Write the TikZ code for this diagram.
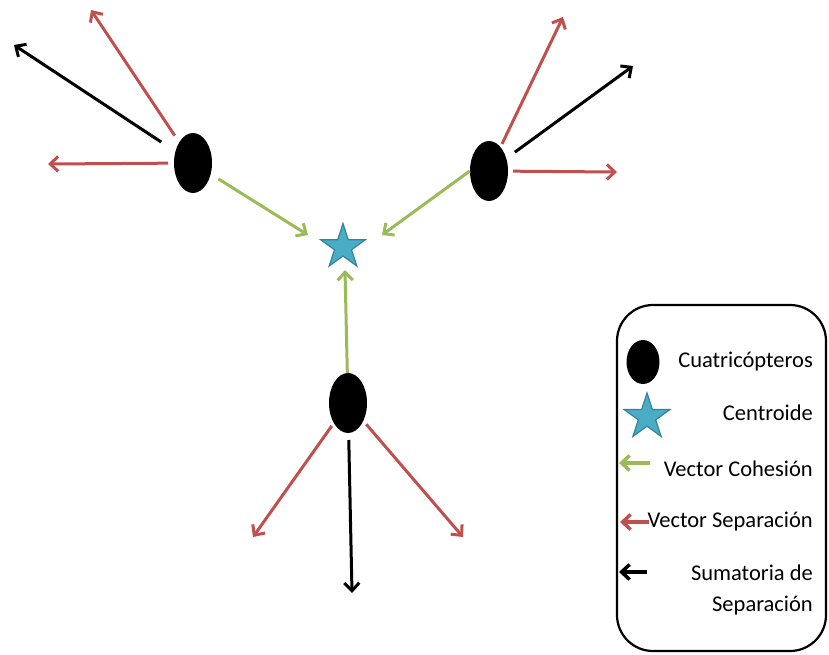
\documentclass[tikz,border=0pt]{standalone}
\usepackage{fontspec}
\setmainfont{Carlito}
\usetikzlibrary{arrows.meta,shapes.geometric}
\definecolor{sepred}{HTML}{C0504D}
\definecolor{cohgreen}{HTML}{9BBB59}
\definecolor{starfill}{HTML}{4BACC6}
\definecolor{starline}{HTML}{31859C}
\tikzset{
  quad/.style={ellipse,fill=black,draw=none,inner sep=0pt,minimum width=38pt,minimum height=60pt},
  centroid/.style={star,star points=5,star point ratio=2.618,fill=starfill,draw=starline,line width=1.2pt,inner sep=0pt,minimum size=47pt},
  vec/.style={line width=3pt,-{Straight Barb[length=8pt,width=15pt]}},
  sepvec/.style={vec,sepred},
  cohvec/.style={vec,cohgreen},
  sumvec/.style={vec,black},
  legtext/.style={font=\fontsize{22.5pt}{26pt}\selectfont,inner sep=0pt,anchor=base east}
}
\begin{document}
\begin{tikzpicture}[x=1pt,y=-1pt]
\useasboundingbox (0,0) rectangle (829,654);

% quadcopters and centroid
\node[quad] (q1) at (193,163) {};
\node[quad] (q2) at (489,171) {};
\node[quad] (q3) at (348,403) {};
\node[centroid] (c) at (343,247) {};

% arrow tips
\coordinate (q1k) at (14,45);
\coordinate (q1u) at (91,10);
\coordinate (q1l) at (48,164);
\coordinate (q1g) at (308,235);
\coordinate (q2u) at (563,17);
\coordinate (q2k) at (633,66);
\coordinate (q2r) at (617,172);
\coordinate (q2g) at (382,235);
\coordinate (q3g) at (345,270);
\coordinate (q3l) at (253,537);
\coordinate (q3r) at (463,537);
\coordinate (q3k) at (352,593);

% quadcopter 1
\draw[sumvec,shorten <=38pt] (q1.center) -- (q1k);
\draw[sepvec,shorten <=33pt] (q1.center) -- (q1u);
\draw[sepvec,shorten <=25pt] (q1.center) -- (q1l);
\draw[cohvec,shorten <=30pt] (q1.center) -- (q1g);

% quadcopter 2
\draw[sepvec,shorten <=30pt] (q2.center) -- (q2u);
\draw[sumvec,shorten <=32pt] (q2.center) -- (q2k);
\draw[sepvec,shorten <=24pt] (q2.center) -- (q2r);
\draw[cohvec] (q2.west) -- (q2g);

% quadcopter 3
\draw[cohvec,shorten <=30pt] (q3.center) -- (q3g);
\draw[sepvec,shorten <=28pt] (q3.center) -- (q3l);
\draw[sepvec,shorten <=28pt] (q3.center) -- (q3r);
\draw[sumvec,shorten <=37pt] (q3.center) -- (q3k);

% legend
\draw[line width=2.2pt,rounded corners=36pt] (617,305) rectangle (826,651);
\node[quad,minimum width=33pt,minimum height=44pt] (lq) at (643,362) {};
\node[centroid,minimum size=48pt] (lc) at (647,417) {};
\node[legtext] (t1) at (813,367) {Cuatricópteros};
\node[legtext] (t2) at (813,420) {Centroide};
\node[legtext] (t3) at (813,476) {Vector Cohesión};
\node[legtext] (t4) at (813,527) {Vector Separación};
\node[legtext] (t5) at (813,580) {Sumatoria de};
\node[legtext] (t6) at (813,611) {Separación};

\coordinate (lg0) at (650,463);
\coordinate (lg1) at (619,463);
\coordinate (lr0) at (649,522);
\coordinate (lr1) at (620,522);
\coordinate (lk0) at (647,572);
\coordinate (lk1) at (619,572);
\draw[cohvec,line width=3.5pt] (lg0) -- (lg1);
\draw[sepvec,line width=3.5pt] (lr0) -- (lr1);
\draw[sumvec,line width=3.5pt] (lk0) -- (lk1);
\end{tikzpicture}
\end{document}
